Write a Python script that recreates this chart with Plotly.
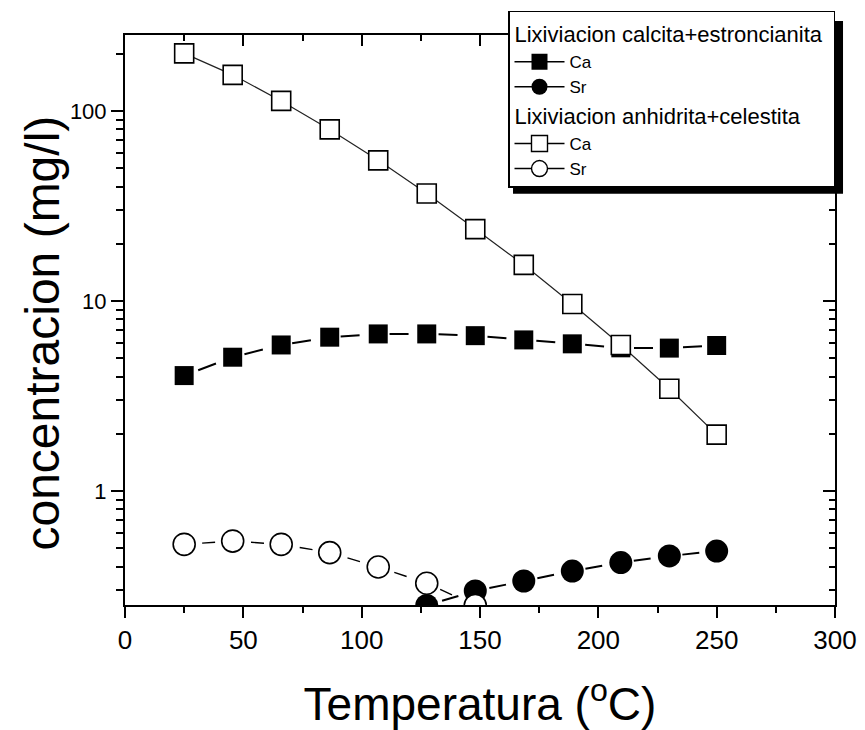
import plotly.graph_objects as go

# ---- data ----
temp = [25, 45.5, 66, 86.5, 107, 127.5, 148, 168.5, 189, 209.5, 230, 250]
ca_calc = [4.05, 5.06, 5.87, 6.45, 6.71, 6.71, 6.57, 6.24, 5.95, 5.67, 5.65, 5.83]
temp_sr_calc = [127.5, 148, 168.5, 189, 209.5, 230, 250]
sr_calc = [0.25, 0.298, 0.336, 0.379, 0.42, 0.455, 0.483]
ca_anh = [201, 155, 113, 80, 55, 36.8, 23.9, 15.5, 9.65, 5.87, 3.45, 1.98]
temp_sr_anh = [25, 45.5, 66, 86.5, 107, 127.5, 148]
sr_anh = [0.524, 0.545, 0.524, 0.474, 0.398, 0.327, 0.25]

group1 = "Lixiviacion calcita+estroncianita"
group2 = "Lixiviacion anhidrita+celestita"
x_title = "Temperatura (<sup>o</sup>C)"
y_title = "concentracion (mg/l)"

x_ticks = [0, 50, 100, 150, 200, 250, 300]
x_minor = [25, 75, 125, 175, 225, 275]
y_ticks = [1, 10, 100]
y_ticktext = ["1", "10", "100"]
y_minor = [0.3, 0.4, 0.5, 0.6, 0.7, 0.8, 0.9,
           2, 3, 4, 5, 6, 7, 8, 9,
           20, 30, 40, 50, 60, 70, 80, 90, 200]

FONT = "Arial, 'Liberation Sans', sans-serif"

series = [
    # name, x, y, group, marker symbol, marker size, fill, line width, dash, line colour
    ("Ca", temp, ca_calc, "g1", "square", 19, "black", 2, "0px,15px,19px,15px", "black"),
    ("Sr", temp_sr_calc, sr_calc, "g1", "circle", 23, "black", 2, "0px,16px,17px,16px", "black"),
    ("Ca", temp, ca_anh, "g2", "square", 19, "white", 1.2, "solid", "#222222"),
    ("Sr", temp_sr_anh, sr_anh, "g2", "circle", 22, "white", 1.4, "0px,18px,13px,18px", "black"),
]
group_titles = {"g1": group1, "g2": group2}

fig = go.Figure()

# data traces
for name, xs, ys, grp, sym, size, fill, lw, dash, lc in series:
    fig.add_trace(go.Scatter(
        x=xs, y=ys, name=name, mode="lines+markers", showlegend=False,
        legendgroup=grp,
        line=dict(color=lc, width=lw, dash=dash),
        marker=dict(symbol=sym, size=size, color=fill,
                    line=dict(width=0 if fill == "black" else 1.6, color="black")),
    ))

# legend entries (solid line through the symbol, as in the reference)
seen = set()
for name, xs, ys, grp, sym, size, fill, lw, dash, lc in series:
    extra = {}
    if grp not in seen:
        extra["legendgrouptitle"] = dict(text=group_titles[grp],
                                         font=dict(size=22, family=FONT, color="black"))
        seen.add(grp)
    fig.add_trace(go.Scatter(
        x=[None], y=[None], name=name, mode="lines+markers", legendgroup=grp,
        line=dict(color="black", width=1.5),
        marker=dict(symbol=sym, size=16, color=fill,
                    line=dict(width=0 if fill == "black" else 1.4, color="black")),
        hoverinfo="skip", **extra,
    ))

# empty trace so the mirrored top/right axes are drawn
fig.add_trace(go.Scatter(x=[], y=[], xaxis="x2", yaxis="y2", showlegend=False, hoverinfo="skip"))

axis_common = dict(showline=True, linewidth=2, linecolor="black", showgrid=False,
                   zeroline=False, tickcolor="black", tickwidth=2, automargin=False)

fig.update_layout(
    width=865, height=730,
    margin=dict(l=125, r=30, t=34, b=125),
    paper_bgcolor="white", plot_bgcolor="white",
    font=dict(family=FONT, color="black"),
    xaxis=dict(
        **axis_common, range=[0, 300], tickmode="array", tickvals=x_ticks,
        ticks="outside", ticklen=11,
        minor=dict(tickmode="array", tickvals=x_minor, ticks="outside", ticklen=6,
                   tickwidth=2, tickcolor="black"),
        tickfont=dict(size=26, family=FONT, color="black"),
        title=dict(text=x_title, font=dict(size=46, family=FONT, color="black"),
                   standoff=36),
    ),
    yaxis=dict(
        **axis_common, type="log", range=[-0.6, 2.4], tickmode="array",
        tickvals=y_ticks, ticktext=y_ticktext, ticks="outside", ticklen=12,
        minor=dict(tickmode="array", tickvals=y_minor, ticks="outside", ticklen=7,
                   tickwidth=2, tickcolor="black"),
        tickfont=dict(size=22, family=FONT, color="black"),
    ),
    xaxis2=dict(
        **axis_common, overlaying="x", side="top", range=[0, 300], tickmode="array",
        tickvals=x_ticks, ticks="inside", ticklen=11, showticklabels=False,
        minor=dict(tickmode="array", tickvals=x_minor, ticks="inside", ticklen=6,
                   tickwidth=2, tickcolor="black"),
    ),
    yaxis2=dict(
        **axis_common, overlaying="y", side="right", type="log", range=[-0.6, 2.4],
        tickmode="array", tickvals=y_ticks, ticks="inside", ticklen=12, showticklabels=False,
        minor=dict(tickmode="array", tickvals=y_minor, ticks="inside", ticklen=6,
                   tickwidth=2, tickcolor="black"),
    ),
    legend=dict(
        x=1.0, xanchor="right", y=1.0403, yanchor="top",
        bgcolor="white", bordercolor="black", borderwidth=1.5,
        font=dict(size=17, family=FONT, color="black"),
        tracegroupgap=0, itemwidth=50, groupclick="toggleitem",
    ),
    annotations=[dict(
        text=y_title, textangle=-90, xref="paper", yref="paper",
        x=-0.1155, y=0.478, xanchor="center", yanchor="middle", showarrow=False,
        font=dict(size=48, family=FONT, color="black"),
    )],
    shapes=[dict(
        type="rect", xref="paper", yref="paper",
        x0=0.5465, x1=1.0113, y0=0.7215, y1=1.0245,
        fillcolor="black", line=dict(width=0), layer="above",
    )],
)

fig.write_html("out.html")
